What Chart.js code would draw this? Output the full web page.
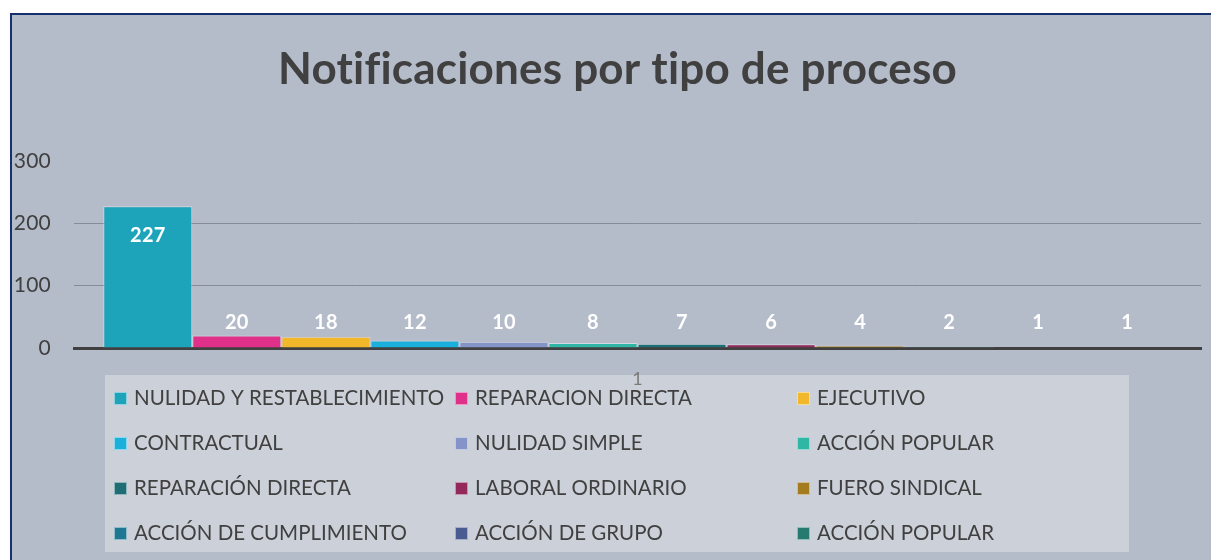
<!DOCTYPE html>
<html>
<head>
<meta charset="utf-8">
<script src="https://cdn.jsdelivr.net/npm/chart.js@4"></script>
<style>
  html, body { margin: 0; padding: 0; background: #fff; overflow: hidden; width: 1211px; height: 560px; }
  #frame {
    position: absolute; left: 10px; top: 13px; width: 1213px; height: 547px;
    border-top: 2px solid #14306e; border-left: 2px solid #14306e;
    background: #b4bbc9;
  }
  #wrap { position: absolute; left: 0; top: 0; width: 1211px; height: 545px; }
</style>
</head>
<body>
<div id="frame"><div id="wrap"><canvas id="myChart"></canvas></div></div>
<script>
const categories = ['1'];
const seriesNames = [
  'NULIDAD Y RESTABLECIMIENTO', 'REPARACION DIRECTA', 'EJECUTIVO',
  'CONTRACTUAL', 'NULIDAD SIMPLE', 'ACCIÓN POPULAR',
  'REPARACIÓN DIRECTA', 'LABORAL ORDINARIO', 'FUERO SINDICAL',
  'ACCIÓN DE CUMPLIMIENTO', 'ACCIÓN DE GRUPO', 'ACCIÓN POPULAR'
];
const seriesValues = [227, 20, 18, 12, 10, 8, 7, 6, 4, 2, 1, 1];
const seriesColors = [
  '#1ea4ba', '#e0318a', '#f1b82b', '#1bb0dc', '#8494c8', '#2fb6a5',
  '#1f6e76', '#92295a', '#a47b1f', '#1f7891', '#4a5b91', '#267a70'
];
const yTicks = [0, 100, 200, 300];

const FONT = 'Lato, "Open Sans", sans-serif';
const TEXT = '#404040';

// legend in a light box, 3 columns; drawn first so the axis label "1" sits on it
const boxLegend = {
  id: 'boxLegend',
  beforeDraw(chart) {
    const ctx = chart.ctx;
    const box = { x: 93, y: 360, w: 1024, h: 177 };
    const cols = [102, 443, 785];
    const rows = [383, 428, 473, 518];
    ctx.save();
    ctx.letterSpacing = '0px';
    ctx.fillStyle = '#cbd0d9';
    ctx.fillRect(box.x, box.y, box.w, box.h);
    ctx.font = '20.5px ' + FONT;
    ctx.textBaseline = 'middle';
    ctx.textAlign = 'left';
    chart.data.datasets.forEach((ds, i) => {
      const cx = cols[i % 3], cy = rows[Math.floor(i / 3)];
      ctx.fillStyle = ds.backgroundColor;
      ctx.fillRect(cx, cy - 6, 13, 13);
      ctx.strokeStyle = 'rgba(255,255,255,0.5)';
      ctx.lineWidth = 1;
      ctx.strokeRect(cx + 0.5, cy - 5.5, 12, 12);
      ctx.fillStyle = TEXT;
      ctx.fillText(ds.label, cx + 20, cy);
    });
    ctx.restore();
    // no ligatures (ti, fi) in the title
    ctx.letterSpacing = '0.2px';
  }
};

// white value labels on the bars
const valueLabels = {
  id: 'valueLabels',
  afterDatasetsDraw(chart) {
    const ctx = chart.ctx;
    ctx.save();
    ctx.fillStyle = '#ffffff';
    ctx.font = 'bold 20px ' + FONT;
    ctx.textAlign = 'center';
    ctx.textBaseline = 'middle';
    chart.data.datasets.forEach((ds, i) => {
      const bar = chart.getDatasetMeta(i).data[0];
      let y = bar.base - bar.y > 50 ? bar.y + 29 : bar.base - 25;
      ctx.fillText(String(ds.data[0]), bar.x, y);
    });
    ctx.restore();
  }
};

const datasets = seriesNames.map((name, i) => ({
  label: name,
  data: [seriesValues[i]],
  backgroundColor: seriesColors[i],
  borderColor: 'rgba(255,255,255,0.45)',
  borderWidth: 1,
  borderSkipped: 'start',
  categoryPercentage: 0.948,
  barPercentage: 1
}));

let myChart = document.getElementById('myChart').getContext('2d');

let procChart = new Chart(myChart, {
  type: 'bar',
  data: { labels: categories, datasets: datasets },
  options: {
    responsive: true,
    maintainAspectRatio: false,
    animation: false,
    layout: { padding: 0 },
    plugins: {
      legend: { display: false },
      tooltip: { enabled: false },
      title: {
        display: true,
        text: 'Notificaciones por tipo de proceso',
        color: TEXT,
        font: { family: FONT, size: 44, weight: 'bold', lineHeight: 1.2 },
        padding: { top: 28, bottom: 65 }
      }
    },
    scales: {
      x: {
        grid: { display: false, drawTicks: false },
        border: { color: '#404040', width: 3 },
        ticks: { color: '#7a7a7a', font: { family: FONT, size: 18 }, padding: 20 },
        afterFit(scale) { scale.height = 212; }
      },
      y: {
        min: 0, max: 300,
        afterBuildTicks(scale) { scale.ticks = yTicks.map(v => ({ value: v })); },
        grid: {
          drawTicks: false,
          color: ctx => (ctx.tick && (ctx.tick.value === 100 || ctx.tick.value === 200)) ? '#858b97' : 'rgba(0,0,0,0)'
        },
        border: { display: false },
        ticks: { color: TEXT, font: { family: FONT, size: 21 }, padding: 23 },
        afterFit(scale) { scale.width = 62; }
      },
      // empty right axis, only keeps space at the right of the plot
      yRight: {
        position: 'right',
        min: 0, max: 300,
        grid: { display: false, drawTicks: false },
        border: { display: false },
        ticks: { display: false },
        afterFit(scale) { scale.width = 22; }
      }
    }
  },
  plugins: [boxLegend, valueLabels]
});
</script>
</body>
</html>
